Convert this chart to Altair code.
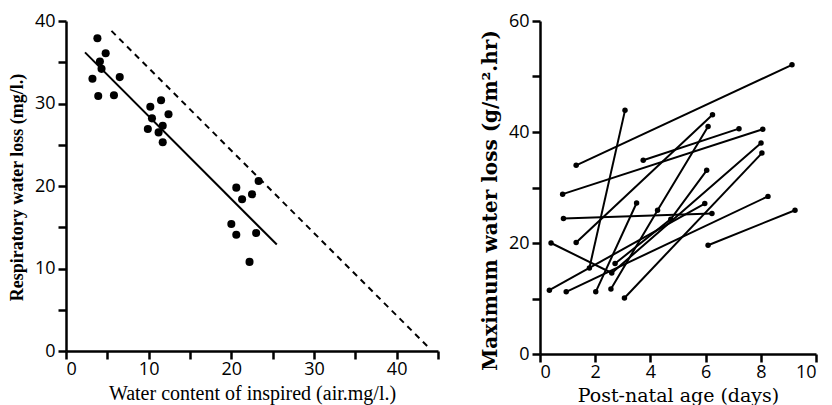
import altair as alt
import pandas as pd

# ---------- Left panel data ----------
left_x = [3.8, 4.8, 4.1, 4.3, 3.2, 6.5, 3.9, 5.8, 11.5, 10.2, 12.4, 10.4, 11.7, 9.9, 11.2, 11.7,
          23.3, 20.6, 22.5, 21.3, 20.0, 20.6, 23.0, 22.2]
left_y = [37.9, 36.1, 35.1, 34.2, 33.0, 33.2, 30.9, 31.0, 30.4, 29.6, 28.7, 28.2, 27.3, 26.9, 26.5, 25.3,
          20.6, 19.8, 19.0, 18.4, 15.4, 14.1, 14.3, 10.8]
fit_x = [2.3, 25.5]
fit_y = [36.2, 12.9]
dash_x = [5.5, 44.0]
dash_y = [38.8, 0.3]
left_xticks = [0, 5, 10, 15, 20, 25, 30, 35, 40, 45]
left_yticks = [0, 5, 10, 15, 20, 25, 30, 35, 40]

# ---------- Right panel data (each animal: list of (age, loss)) ----------
series_x = [
    [1.31, 9.13],
    [0.82, 8.07],
    [3.74, 7.21],
    [1.79, 3.08],
    [1.31, 6.25],
    [0.85, 6.23],
    [0.40, 2.60, 8.01],
    [0.34, 5.97],
    [0.95, 8.26],
    [6.09, 9.24],
    [2.02, 3.50],
    [2.57, 4.26, 6.09],
    [3.06, 8.04],
    [2.72, 4.74, 6.04],
]
series_y = [
    [34.0, 52.1],
    [28.8, 40.5],
    [34.9, 40.6],
    [15.5, 43.9],
    [20.1, 43.1],
    [24.4, 25.3],
    [20.0, 14.6, 38.0],
    [11.5, 27.1],
    [11.2, 28.4],
    [19.6, 25.9],
    [11.2, 27.2],
    [11.7, 25.9, 41.0],
    [10.1, 36.2],
    [16.3, 24.3, 33.1],
]
right_xticks = [0, 2, 4, 6, 8, 10]
right_yticks = [0, 10, 20, 30, 40, 50, 60]

LABEL_FONT = "Liberation Sans Narrow, Open Sans, sans-serif"
SERIF_A = "Liberation Serif, serif"
SERIF_B = "DejaVu Serif, serif"

# ---------- Build tables ----------
pts = pd.DataFrame({"x": left_x, "y": left_y})
fit = pd.DataFrame({"x": fit_x, "y": fit_y})
dash = pd.DataFrame({"x": dash_x, "y": dash_y})
rows = []
for i, (xs, ys) in enumerate(zip(series_x, series_y)):
    for j, (a, b) in enumerate(zip(xs, ys)):
        rows.append({"id": i, "o": j, "x": a, "y": b})
seg = pd.DataFrame(rows)


def axes(title_x, title_y, xvals, yvals, xexpr, yexpr, xdom, ydom,
         xfont, xsize, yfont, ysize, ytitle_y):
    xa = alt.X("x:Q", scale=alt.Scale(domain=xdom),
               axis=alt.Axis(title=title_x, values=xvals, labelExpr=xexpr,
                             ticks=True, tickSize=8, tickWidth=2.5, tickColor="black",
                             grid=False, domainColor="black", domainWidth=2.5, labelPadding=1,
                             labelFont=LABEL_FONT, labelFontSize=18, labelColor="black",
                             titleFont=xfont, titleFontSize=xsize, titleFontWeight="normal",
                             titleColor="black", titlePadding=5))
    ya = alt.Y("y:Q", scale=alt.Scale(domain=ydom),
               axis=alt.Axis(title=title_y, values=yvals, labelExpr=yexpr,
                             ticks=True, tickSize=8, tickWidth=2.5, tickColor="black",
                             grid=False, domainColor="black", domainWidth=2.5, labelPadding=3,
                             labelFont=LABEL_FONT, labelFontSize=18, labelColor="black",
                             titleFont=yfont, titleFontSize=ysize, titleFontWeight="bold",
                             titleColor="black", titlePadding=8, titleY=ytitle_y))
    return xa, ya


# Left
lx, ly = axes("Water content of inspired (air.mg/l.)", "Respiratory water loss (mg/l.)",
              left_xticks, left_yticks,
              "datum.value % 10 == 0 && datum.value < 45 ? datum.label : ''",
              "datum.value % 10 == 0 ? datum.label : ''",
              [0, 45], [0, 40], SERIF_A, 20, SERIF_A, 18, 166)
l_pts = alt.Chart(pts).mark_circle(color="black", size=65, opacity=1).encode(x=lx, y=ly)
l_fit = alt.Chart(fit).mark_line(color="black", strokeWidth=2).encode(x="x:Q", y="y:Q")
l_dash = alt.Chart(dash).mark_line(color="black", strokeWidth=2, strokeDash=[6, 5]).encode(x="x:Q", y="y:Q")
left = alt.layer(l_pts, l_fit, l_dash).properties(width=372, height=330)

# Right
rx, ry = axes("Post-natal age (days)", "Maximum water loss (g/m\u00b2.hr)",
              right_xticks, right_yticks,
              "datum.label",
              "datum.value % 20 == 0 ? datum.label : ''",
              [0, 10], [0, 60], SERIF_B, 19, SERIF_B, 20, 179)
r_lines = alt.Chart(seg).mark_line(color="black", strokeWidth=2).encode(
    x=rx, y=ry, detail="id:N", order="o:Q")
r_dots = alt.Chart(seg).mark_circle(color="black", size=30, opacity=1).encode(x="x:Q", y="y:Q")
right = alt.layer(r_lines, r_dots).properties(width=276, height=333)

chart = alt.hconcat(left, right, spacing=40).properties(
    padding={"left": 0, "top": 4, "right": 0, "bottom": 0}
).configure_view(stroke=None)

chart.save("out.html", embed_options={"renderer": "svg", "actions": False})
